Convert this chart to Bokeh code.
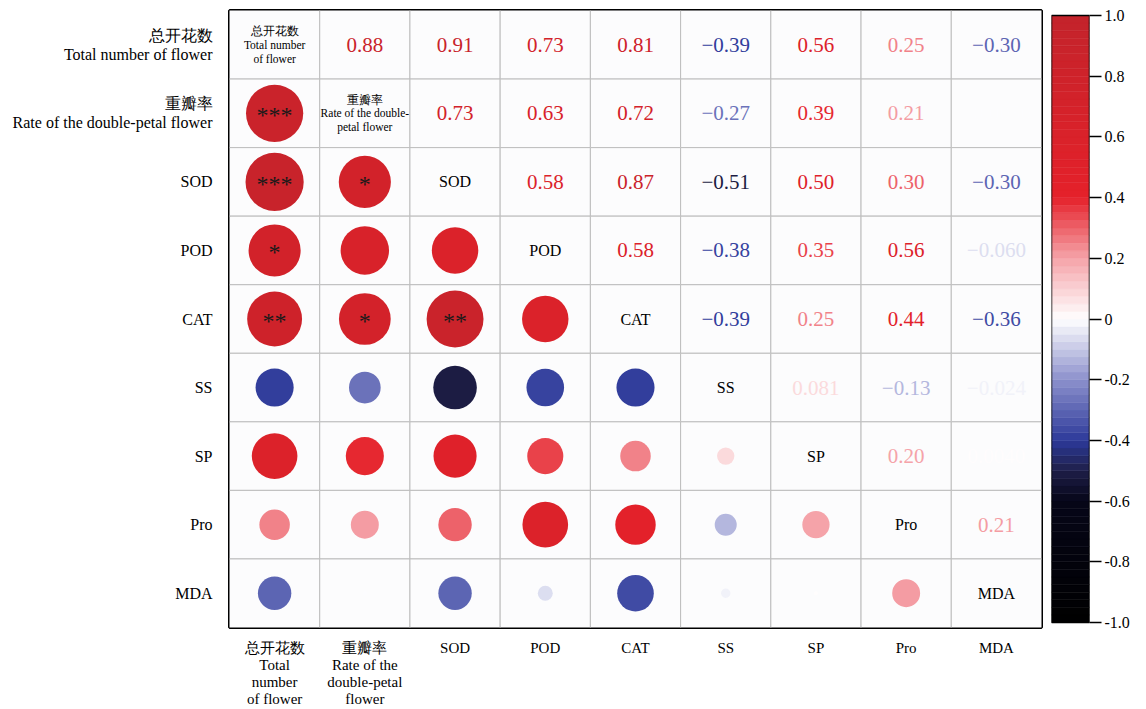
from bokeh.plotting import figure
from bokeh.models import FactorRange, FixedTicker, Range1d
from bokeh.layouts import row
from bokeh.core.properties import value
from bokeh.embed import file_html
from bokeh.resources import INLINE
import math

# ---------------- data ----------------
left_labels = ["总开花数\nTotal number of flower", "重瓣率\nRate of the double-petal flower",
               "SOD", "POD", "CAT", "SS", "SP", "Pro", "MDA"]
bottom_labels = ["总开花数\nTotal\nnumber\nof flower", "重瓣率\nRate of the\ndouble-petal\nflower",
                 "SOD", "POD", "CAT", "SS", "SP", "Pro", "MDA"]
diag_labels = ["总开花数\nTotal number\nof flower", "重瓣率\nRate of the double-\npetal flower",
               "SOD", "POD", "CAT", "SS", "SP", "Pro", "MDA"]

# upper triangle correlations (row variable vs following columns)
r_total = [0.88, 0.91, 0.73, 0.81, -0.39, 0.56, 0.25, -0.30]
r_rate = [0.73, 0.63, 0.72, -0.27, 0.39, 0.21, -0.005]
r_sod = [0.58, 0.87, -0.51, 0.50, 0.30, -0.30]
r_pod = [0.58, -0.38, 0.35, 0.56, -0.060]
r_cat = [-0.39, 0.25, 0.44, -0.36]
r_ss = [0.081, -0.13, -0.024]
r_sp = [0.20, 0.004]
r_pro = [0.21]

# significance marks (same layout as the correlations)
s_total = ["***", "***", "*", "**", "", "", "", ""]
s_rate = ["*", "", "*", "", "", "", ""]
s_sod = ["", "**", "", "", "", ""]
s_pod = ["", "", "", "", ""]
s_cat = ["", "", "", ""]
s_ss = ["", "", ""]
s_sp = ["", ""]
s_pro = [""]

cbar_ticks = [-1.0, -0.8, -0.6, -0.4, -0.2, 0.0, 0.2, 0.4, 0.6, 0.8, 1.0]
cbar_tick_labels = ["-1.0", "-0.8", "-0.6", "-0.4", "-0.2", "0", "0.2", "0.4", "0.6", "0.8", "1.0"]

# colour map anchors (value, rgb)
cmap_pos = [-1.0, -0.6, -0.5, -0.4, -0.2, 0.0, 0.2, 0.4, 0.7, 1.0]
cmap_rgb = [(0, 0, 0), (6, 6, 24), (30, 30, 72), (45, 58, 154), (140, 144, 204),
            (255, 255, 255), (245, 163, 169), (229, 33, 42), (212, 34, 42), (195, 35, 43)]


def cmap(v):
    v = max(-1.0, min(1.0, v))
    for k in range(len(cmap_pos) - 1):
        a, b = cmap_pos[k], cmap_pos[k + 1]
        if a <= v <= b:
            t = (v - a) / (b - a)
            c0, c1 = cmap_rgb[k], cmap_rgb[k + 1]
            c = [round(c0[m] + (c1[m] - c0[m]) * t) for m in range(3)]
            return "#%02x%02x%02x" % tuple(c)
    return "#ffffff"


upper = [r_total, r_rate, r_sod, r_pod, r_cat, r_ss, r_sp, r_pro]
sigs = [s_total, s_rate, s_sod, s_pod, s_cat, s_ss, s_sp, s_pro]
xk = bottom_labels
yk = left_labels

# ---------------- main matrix ----------------
p = figure(width=1046, height=709, output_backend="svg", toolbar_location=None,
           x_range=FactorRange(*xk), y_range=FactorRange(*reversed(yk)),
           min_border_left=229, min_border_right=5, min_border_top=10, min_border_bottom=82)
p.background_fill_color = "#fcfcfd"
p.border_fill_color = "white"
p.outline_line_color = "black"
p.outline_line_width = 3
p.grid.grid_line_color = None

cx, cy = [], []
for i in range(9):
    for j in range(9):
        cx.append(xk[j]); cy.append(yk[i])
p.rect(x=cx, y=cy, width=1, height=1, fill_color="#fcfcfd", line_color="#bdbdbd", line_width=1)

ux, uy, ut, uc = [], [], [], []
lx, ly, ls, lc, lsig = [], [], [], [], []
for i, vals in enumerate(upper):
    for k, v in enumerate(vals):
        j = i + 1 + k
        ux.append(xk[j]); uy.append(yk[i])
        ut.append(format(v, "#.2g").replace("-", "−"))
        uc.append(cmap(v))
        lx.append(xk[i]); ly.append(yk[j])
        ls.append(61 * math.sqrt(abs(v)))
        lc.append(cmap(v))
        lsig.append(sigs[i][k])

p.scatter(x=lx, y=ly, size=ls, marker="circle", fill_color=lc, line_color=None)
p.text(x=lx, y=ly, text=lsig, text_color="#1a1a1a", text_font=value("Liberation Serif"),
       text_font_size="24px", text_align="center", text_baseline="middle", y_offset=2)
p.text(x=ux, y=uy, text=ut, text_color=uc, text_font=value("Liberation Serif"),
       text_font_size="21px", text_align="center", text_baseline="middle")

# diagonal labels
big = [k for k in range(9) if "\n" not in diag_labels[k]]
small = [k for k in range(9) if "\n" in diag_labels[k]]
p.text(x=[xk[k] for k in big], y=[yk[k] for k in big], text=[diag_labels[k] for k in big],
       text_font=value("Liberation Serif"), text_font_size="16px", text_color="black",
       text_align="center", text_baseline="middle")
p.text(x=[xk[k] for k in small], y=[yk[k] for k in small], text=[diag_labels[k] for k in small],
       text_font=value("Liberation Serif"), text_font_size="11.5px", text_color="black",
       text_align="center", text_baseline="middle", text_line_height=1.15)

for ax in (p.xaxis[0], p.yaxis[0]):
    ax.axis_line_color = None
    ax.major_tick_line_color = None
    ax.minor_tick_line_color = None
    ax.major_label_text_font = "Liberation Serif"
    ax.major_label_text_font_size = "16px"
    ax.major_label_text_color = "black"
    ax.major_label_text_line_height = 1.12
p.xaxis[0].major_label_text_font_size = "15px"
p.xaxis[0].major_label_text_line_height = 1.07
p.yaxis[0].major_label_standoff = 11
p.xaxis[0].major_label_standoff = 6

# ---------------- colour bar ----------------
n_steps = 80
lo = [-1 + 2 * s / n_steps for s in range(n_steps)]
hi = [-1 + 2 * (s + 1) / n_steps for s in range(n_steps)]
cols = [cmap((a + b) / 2) for a, b in zip(lo, hi)]

pad = 5 * 2.0 / 607  # bar is inset 5px inside the aligned frame
cb = figure(width=100, height=709, output_backend="svg", toolbar_location=None,
            x_range=Range1d(0, 1), y_range=Range1d(-1 - pad, 1 + pad), y_axis_location="right",
            min_border_left=5, min_border_right=57, min_border_top=10, min_border_bottom=82)
cb.quad(left=0, right=1, bottom=lo, top=hi, fill_color=cols, line_color=cols, line_width=0.5)
cb.quad(left=0, right=1, bottom=-1, top=1, fill_color=None, line_color="black", line_width=1.5)
cb.outline_line_color = None
cb.grid.grid_line_color = None
cb.xaxis.visible = False
ya = cb.yaxis[0]
ya.ticker = FixedTicker(ticks=cbar_ticks)
ya.major_label_overrides = {t: l for t, l in zip(cbar_ticks, cbar_tick_labels)}
ya.axis_line_color = None
ya.major_tick_out = 12
ya.major_tick_in = 0
ya.major_tick_line_color = "black"
ya.major_tick_line_width = 1.5
ya.minor_tick_line_color = None
ya.major_label_text_font = "Liberation Serif"
ya.major_label_text_font_size = "16px"
ya.major_label_text_color = "black"
ya.major_label_standoff = 3

layout = row(p, cb)
open("out.html", "w").write(file_html(layout, INLINE))
